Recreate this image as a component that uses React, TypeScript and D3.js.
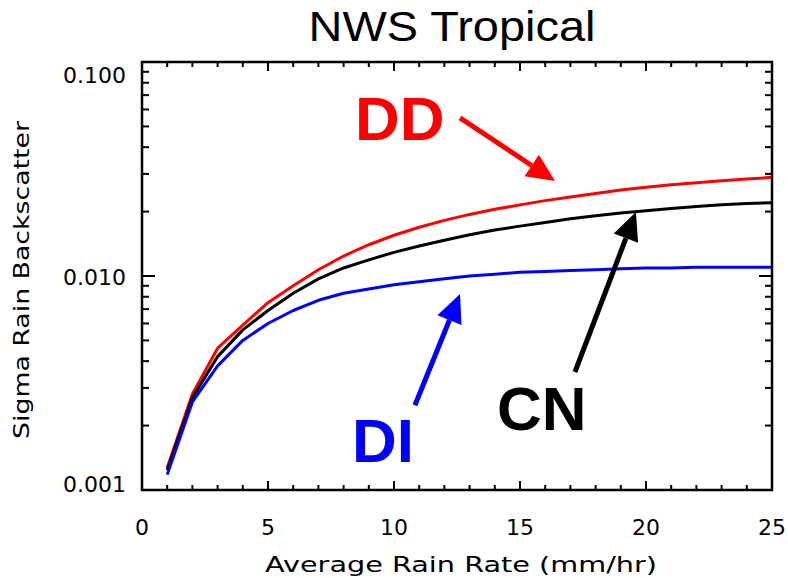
import { useRef, useEffect } from "react";
import * as d3 from "d3";

// rain rate (mm/hr)
const rainRate = [1, 2, 3, 4, 5, 6, 7, 8, 9, 10, 11, 12, 13, 14, 15, 16, 17, 18, 19, 20, 21, 22, 23, 24, 25];

// sigma rain backscatter per model
const ddValues = [0.00127, 0.00281, 0.0046, 0.0059, 0.0075, 0.009, 0.0107, 0.0124, 0.014, 0.0155, 0.0169, 0.0182, 0.0194, 0.0205, 0.0215, 0.0225, 0.0234, 0.0243, 0.0252, 0.026, 0.0267, 0.0273, 0.0279, 0.0284, 0.0289];
const cnValues = [0.00124, 0.0027, 0.0042, 0.0056, 0.0069, 0.0083, 0.0097, 0.0109, 0.0119, 0.0129, 0.0138, 0.0147, 0.0156, 0.0164, 0.0171, 0.0178, 0.0185, 0.0191, 0.0197, 0.0202, 0.0207, 0.0211, 0.0215, 0.0218, 0.022];
const diValues = [0.00118, 0.00258, 0.0038, 0.005, 0.006, 0.0069, 0.0077, 0.0083, 0.0087, 0.0091, 0.0094, 0.0097, 0.01, 0.0102, 0.0104, 0.0105, 0.0106, 0.0107, 0.0108, 0.0109, 0.0109, 0.011, 0.011, 0.011, 0.011];

const xTickLabels = [0, 5, 10, 15, 20, 25];
const yTickLabels = [0.001, 0.01, 0.1];

const series = [
  { name: "DD", values: ddValues, color: "#ff0000" },
  { name: "CN", values: cnValues, color: "#000000" },
  { name: "DI", values: diValues, color: "#0000ff" },
];

// annotation label + arrow, in data units
const notes = [
  { name: "DD", color: "#ff0000", tx: 8.45, ty: 0.0432, from: [12.62, 0.0548], to: [16.39, 0.0278] },
  { name: "CN", color: "#000000", tx: 14.09, ty: 0.00191, from: [17.18, 0.00356], to: [19.6, 0.0199] },
  { name: "DI", color: "#0000ff", tx: 8.33, ty: 0.00135, from: [10.83, 0.00249], to: [12.62, 0.00823] },
];

const width = 788;
const height = 578;

function App() {
  const ref = useRef<SVGSVGElement | null>(null);

  useEffect(() => {
    if (!ref.current) return;
    const margin = { top: 62, right: 16, bottom: 88, left: 142 };
    const x0 = margin.left;
    const x1 = width - margin.right;
    const y0 = height - margin.bottom;
    const y1 = margin.top;
    const font = "'DejaVu Sans', sans-serif";
    const bold = "'Liberation Sans', Arial, sans-serif";

    const svg = d3.select(ref.current).html("");

    const x = d3.scaleLinear().domain([0, 25]).range([x0, x1]);
    const y = d3.scaleLog().domain([0.001, 0.1]).range([y0, y1]);

    // title
    svg.append("text")
      .attr("x", (x0 + x1) / 2 - 5)
      .attr("y", 41)
      .attr("text-anchor", "middle")
      .attr("textLength", 287)
      .attr("lengthAdjust", "spacingAndGlyphs")
      .style("font-family", bold)
      .style("font-size", "43px")
      .text("NWS Tropical");

    // curves
    const line = d3
      .line<number>()
      .x((d, i) => x(rainRate[i]))
      .y((d) => y(d));
    series.forEach((s) => {
      svg.append("path")
        .datum(s.values)
        .attr("fill", "none")
        .attr("stroke", s.color)
        .attr("stroke-width", 3)
        .attr("stroke-linejoin", "round")
        .attr("d", line as any);
    });

    // frame
    svg.append("rect")
      .attr("x", x0)
      .attr("y", y1)
      .attr("width", x1 - x0)
      .attr("height", y0 - y1)
      .attr("fill", "none")
      .attr("stroke", "black")
      .attr("stroke-width", 2.5);

    const ticks = svg.append("g").attr("stroke", "black").attr("stroke-width", 2);

    // x ticks, bottom and top, pointing in
    d3.range(0, 26).forEach((v) => {
      const len = v % 5 === 0 ? 9 : 5;
      ticks.append("line").attr("x1", x(v)).attr("x2", x(v)).attr("y1", y0).attr("y2", y0 - len);
      ticks.append("line").attr("x1", x(v)).attr("x2", x(v)).attr("y1", y1).attr("y2", y1 + len);
    });

    // y ticks, log decades
    const yTicks: number[] = [];
    [0.001, 0.01].forEach((dec) => {
      for (let k = 1; k <= 9; k++) yTicks.push(dec * k);
    });
    yTicks.push(0.1);
    yTicks.forEach((v) => {
      const major = yTickLabels.some((t) => Math.abs(t - v) < 1e-9);
      const len = major ? 13 : 7;
      ticks.append("line").attr("x1", x0).attr("x2", x0 + len).attr("y1", y(v)).attr("y2", y(v));
      ticks.append("line").attr("x1", x1).attr("x2", x1 - len).attr("y1", y(v)).attr("y2", y(v));
    });

    // tick labels
    svg.append("g")
      .selectAll("text")
      .data(xTickLabels)
      .enter()
      .append("text")
      .attr("x", (d) => x(d))
      .attr("y", 535)
      .attr("text-anchor", "middle")
      .style("font-family", font)
      .style("font-size", "22px")
      .text((d) => d);

    svg.append("g")
      .selectAll("text")
      .data(yTickLabels)
      .enter()
      .append("text")
      .attr("x", 126)
      .attr("y", (d) => y(d) + (d === 0.1 ? 21 : d === 0.001 ? 2 : 9))
      .attr("text-anchor", "end")
      .style("font-family", font)
      .style("font-size", "22px")
      .text((d) => d3.format(".3f")(d));

    // axis titles
    svg.append("text")
      .attr("x", (x0 + x1) / 2 + 4)
      .attr("y", 572)
      .attr("text-anchor", "middle")
      .attr("textLength", 392)
      .attr("lengthAdjust", "spacingAndGlyphs")
      .style("font-family", font)
      .style("font-size", "21px")
      .text("Average Rain Rate (mm/hr)");

    svg.append("text")
      .attr("transform", `translate(29,${(y0 + y1) / 2 + 4}) rotate(-90)`)
      .attr("text-anchor", "middle")
      .attr("textLength", 318)
      .attr("lengthAdjust", "spacingAndGlyphs")
      .style("font-family", font)
      .style("font-size", "21px")
      .text("Sigma Rain Backscatter");

    // annotations
    notes.forEach((n) => {
      svg.append("text")
        .attr("x", x(n.tx))
        .attr("y", y(n.ty))
        .attr("fill", n.color)
        .style("font-family", bold)
        .style("font-weight", "bold")
        .style("font-size", "62px")
        .text(n.name);

      const ax = x(n.from[0]);
      const ay = y(n.from[1]);
      const bx = x(n.to[0]);
      const by = y(n.to[1]);
      const ang = Math.atan2(by - ay, bx - ax);
      const headLen = 28;
      const headW = 13;
      const baseX = bx - headLen * Math.cos(ang);
      const baseY = by - headLen * Math.sin(ang);
      svg.append("line")
        .attr("x1", ax)
        .attr("y1", ay)
        .attr("x2", baseX)
        .attr("y2", baseY)
        .attr("stroke", n.color)
        .attr("stroke-width", 5);
      const px = -Math.sin(ang);
      const py = Math.cos(ang);
      svg.append("polygon")
        .attr("points", [
          [bx, by],
          [baseX + headW * px, baseY + headW * py],
          [baseX - headW * px, baseY - headW * py],
        ].map((p) => p.join(",")).join(" "))
        .attr("fill", n.color);
    });
  }, []);

  return (
    <svg
      ref={ref}
      width={width}
      height={height}
      style={{ position: "absolute", left: 0, top: 0, background: "white" }}
    ></svg>
  );
}

export default App;
